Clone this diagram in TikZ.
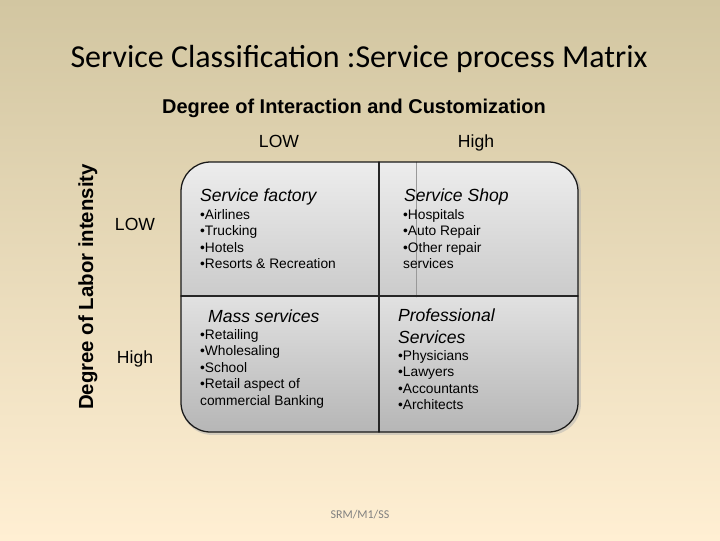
\documentclass[tikz,border=0pt]{standalone}
\usepackage{fontspec}
\setmainfont{Liberation Sans}
\newfontfamily\calibri{Carlito}
\usepackage{graphicx}
\usetikzlibrary{positioning}
\definecolor{bgtop}{HTML}{D2C6A1}
\definecolor{bgbot}{HTML}{FFEFD3}
\definecolor{quadtop}{HTML}{EDEDED}
\definecolor{quadmid}{HTML}{CBCBCB}
\definecolor{quadbot}{HTML}{B6B6B6}
\definecolor{footgray}{HTML}{808080}

\begin{document}
\begin{tikzpicture}[line cap=round,line join=round,x=0.05cm,y=-0.05cm,
  axislabel/.style={font=\fontsize{25}{28}\selectfont},
  quadhead/.style={anchor=west,inner sep=0pt,font=\fontsize{25}{31}\selectfont\itshape,align=left},
  quadlist/.style={anchor=north west,inner sep=0pt,font=\fontsize{19.6}{23.6}\selectfont,align=left},
  divider/.style={line width=2pt,black!85}]
\useasboundingbox (0,0) rectangle (720,540);
\shade[top color=bgtop,bottom color=bgbot] (0,0) rectangle (720,540);
% titles
\node (title) at (359,59) {\calibri\fontsize{45.5}{50}\selectfont Service Classification :Service process Matrix};
\node (interaction) at (354,108) {\fontsize{28.4}{30}\selectfont\bfseries Degree of Interaction and Customization};
\node[axislabel] (lowtop) at (279,141) {LOW};
\node[axislabel] (hightop) at (476,143) {High};
\node[rotate=90,font=\fontsize{29}{32}\selectfont\bfseries] (labor) at (88,287) {Degree of Labor intensity};
\node[axislabel] (lowleft) at (135,224) {LOW};
\node[axislabel] (highleft) at (135,359) {High};
% matrix box
\coordinate (boxnw) at (181,162);
\coordinate (boxse) at (578,432);
\coordinate (vtop) at (379,162);
\coordinate (vbot) at (379,432);
\coordinate (hleft) at (181,296);
\coordinate (hright) at (578,296);
\coordinate (gtop) at (416,162);
\coordinate (gbot) at (416,297);
\draw[rounded corners=42pt,line width=4pt,black!30,opacity=0.5] ([shift={(1.5,1.5)}]boxnw) rectangle ([shift={(1.5,1.5)}]boxse);
\begin{scope}
\clip[rounded corners=42pt] (boxnw) rectangle (boxse);
\shade[top color=quadtop,bottom color=quadmid] (boxnw) rectangle (hright);
\shade[top color=quadtop!95!black,bottom color=quadbot] (hleft) rectangle (boxse);
\end{scope}
\draw[gray!80,line width=1.2pt] (gtop)--(gbot);
\draw[divider] (vtop)--(vbot);
\draw[divider] (hleft)--(hright);
\draw[rounded corners=42pt,line width=1.8pt,black!90] (boxnw) rectangle (boxse);
% quadrants
\node[quadhead] (factory) at (200,197) {Service factory};
\node[quadlist] (factorylist) at (200,209) {\textbullet Airlines\\\textbullet Trucking\\\textbullet Hotels\\\textbullet Resorts \& Recreation};
\node[quadhead] (shop) at (404,197) {Service Shop};
\node[quadlist] (shoplist) at (403,209) {\textbullet Hospitals\\\textbullet Auto Repair\\\textbullet Other repair\\services};
\node[quadhead] (mass) at (208,316) {Mass services};
\node[quadlist] (masslist) at (200,329) {\textbullet Retailing\\\textbullet Wholesaling\\\textbullet School\\\textbullet Retail aspect of\\commercial Banking};
\node[quadhead,anchor=north west] (prof) at (398,309) {Professional\\Services};
\node[quadlist] (proflist) at (398,350) {\textbullet Physicians\\\textbullet Lawyers\\\textbullet Accountants\\\textbullet Architects};
\node[text=footgray] (footer) at (360,515) {\calibri\fontsize{17}{20}\selectfont SRM/M1/SS};
\end{tikzpicture}
\end{document}
